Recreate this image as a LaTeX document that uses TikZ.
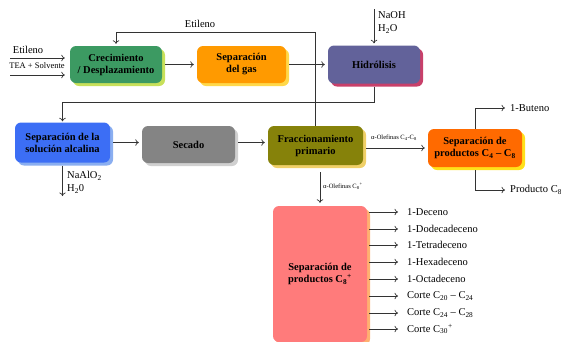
\documentclass[tikz,border=0pt]{standalone}
\usepackage{fontspec}
\setmainfont{Liberation Serif}
\usetikzlibrary{arrows.meta,shadows}

% fill / shadow colours of the process blocks
\definecolor{grn}{HTML}{3C9A62}
\definecolor{grnsh}{HTML}{C8E05A}
\definecolor{org}{HTML}{FF9A00}
\definecolor{orgsh}{HTML}{FFD84A}
\definecolor{pur}{HTML}{62629A}
\definecolor{pursh}{HTML}{C8406A}
\definecolor{blu}{HTML}{3C6EF5}
\definecolor{blush}{HTML}{8AAEF0}
\definecolor{gry}{HTML}{848484}
\definecolor{grysh}{HTML}{D0D0D0}
\definecolor{olv}{HTML}{86820A}
\definecolor{olvsh}{HTML}{F0D068}
\definecolor{rorg}{HTML}{FF6A00}
\definecolor{rorgsh}{HTML}{FFE01A}
\definecolor{pnk}{HTML}{FF7B7B}
\definecolor{pnksh}{HTML}{FFB070}
\definecolor{ln}{HTML}{333333}

\begin{document}
\begin{tikzpicture}[x=1pt,y=-1pt,
  box/.style 2 args={rounded corners=6pt, fill=#1, draw=none, align=center,
    inner sep=0pt, font=\bfseries\fontsize{10.5}{12}\selectfont,
    copy shadow={shadow xshift=3pt, shadow yshift=-3pt, fill=#2, draw=none}},
  flow/.style={draw=ln, line width=0.7pt, -{To[length=3.5pt,width=6.5pt]}},
  lab/.style={font=\fontsize{10.5}{12}\selectfont, inner sep=0pt},
  small/.style={font=\fontsize{8.5}{10}\selectfont, inner sep=0pt},
  tiny/.style={font=\fontsize{6.5}{7.5}\selectfont, inner sep=0pt}]
\useasboundingbox (0,0) rectangle (561,341);

% process blocks
\node[box={grn}{grnsh}, minimum width=92pt, minimum height=37pt] (b1) at (116,64.5) {Crecimiento\\/ Desplazamiento};
\node[box={org}{orgsh}, minimum width=89pt, minimum height=37pt] (b2) at (241.5,64.5) {Separación\\del gas};
\node[box={pur}{pursh}, minimum width=92pt, minimum height=38pt] (b3) at (374,64.5) {Hidrólisis};
\node[box={blu}{blush}, minimum width=95pt, minimum height=40pt] (b4) at (62.5,142.5) {Separación de la\\solución alcalina};
\node[box={gry}{grysh}, minimum width=93pt, minimum height=37pt] (b5) at (188.5,144.5) {Secado};
\node[box={olv}{olvsh}, minimum width=95pt, minimum height=39pt] (b6) at (315.5,145.5) {Fraccionamiento\\primario};
\node[box={rorg}{rorgsh}, minimum width=94pt, minimum height=38pt] (b7) at (475,148) {Separación de\\productos C\textsubscript{4} -- C\textsubscript{8}};
\node[box={pnk}{pnksh}, minimum width=94pt, minimum height=136pt] (b8) at (320,274) {Separación de\\productos C\textsubscript{8}\textsuperscript{+}};

% feeds
\coordinate (fe) at (10,58);
\coordinate (ft) at (10,75);
\draw[flow, shorten >=5pt] (fe) -- (fe -| b1.west);
\draw[flow, shorten >=5pt] (ft) -- (ft -| b1.west);
\node[lab] (lfe) at (28,50) {Etileno};
\node[small] (lft) at (37,66) {TEA + Solvente};

% main line
\draw[flow, shorten <=3pt, shorten >=3pt] (b1.east) -- (b2.west);
\draw[flow, shorten <=3pt, shorten >=3pt] (b2.east) -- (b3.west);

% ethylene recycle
\coordinate (rc) at (315,32);
\draw[flow, shorten >=2pt] (b6.north) -- (b6.north |- rc) -| (b1.north);
\node[lab] (lrc) at (200,24) {Etileno};

% caustic feed to hydrolysis
\coordinate (na) at (374,9);
\draw[flow, shorten >=2pt] (na) -- (b3.north);
\node[lab, anchor=west] (lna) at (378,15) {NaOH};
\node[lab, anchor=west] (lh1) at (378,29) {H\textsubscript{2}O};

% hydrolysis to caustic separation
\coordinate (hb) at (374,102);
\draw[flow, shorten <=3pt, shorten >=1pt] (b3.south) -- (hb) -| (b4.north);

\draw[flow, shorten <=3pt, shorten >=3pt] (b4.east) -- (b4.east -| b5.west);
\draw[flow, shorten <=3pt, shorten >=3pt] (b5.east |- b4.east) -- (b4.east -| b6.west);

% aluminate purge
\coordinate (al) at (62.5,196);
\draw[flow, shorten <=3pt] (b4.south) -- (al);
\node[lab, anchor=west] (lal) at (67,176) {NaAlO\textsubscript{2}};
\node[lab, anchor=west] (lh2) at (67,189) {H\textsubscript{2}0};

% light olefins
\draw[flow, shorten <=3pt, shorten >=3pt] (b6.east |- b7.west) -- (b7.west);
\node[tiny] (llo) at (394,138) {α-Olefinas C\textsubscript{4}-C\textsubscript{8}};

% heavy olefins
\draw[flow, shorten <=7pt, shorten >=3pt] (b8.north |- b6.south) -- (b8.north);
\node[tiny, anchor=west] (lho) at (323,186) {α-Olefinas C\textsubscript{8}\textsuperscript{+}};

% C4-C8 products
\coordinate (bu) at (505,108);
\coordinate (pc) at (505,190);
\draw[flow] (b7.north) |- (bu);
\draw[flow, shorten <=3pt] (b7.south) |- (pc);
\node[lab, anchor=west] (lbu) at (510,108) {1-Buteno};
\node[lab, anchor=west] (lpc) at (510,190) {Producto C\textsubscript{8}};

% C8+ cuts
\foreach \i/\y/\t in {1/212/{1-Deceno}, 2/229/{1-Dodecadeceno}, 3/245/{1-Tetradeceno},
    4/262/{1-Hexadeceno}, 5/279/{1-Octadeceno},
    6/296/{Corte C\textsubscript{20} -- C\textsubscript{24}},
    7/313/{Corte C\textsubscript{24} -- C\textsubscript{28}},
    8/329/{Corte C\textsubscript{30}\textsuperscript{+}}} {
  \coordinate (o\i) at (398,\y);
  \draw[flow, shorten <=2pt] (o\i -| b8.east) -- (o\i);
  \node[lab, anchor=west] (lo\i) at (407,\y) {\t};
}
\end{tikzpicture}
\end{document}
